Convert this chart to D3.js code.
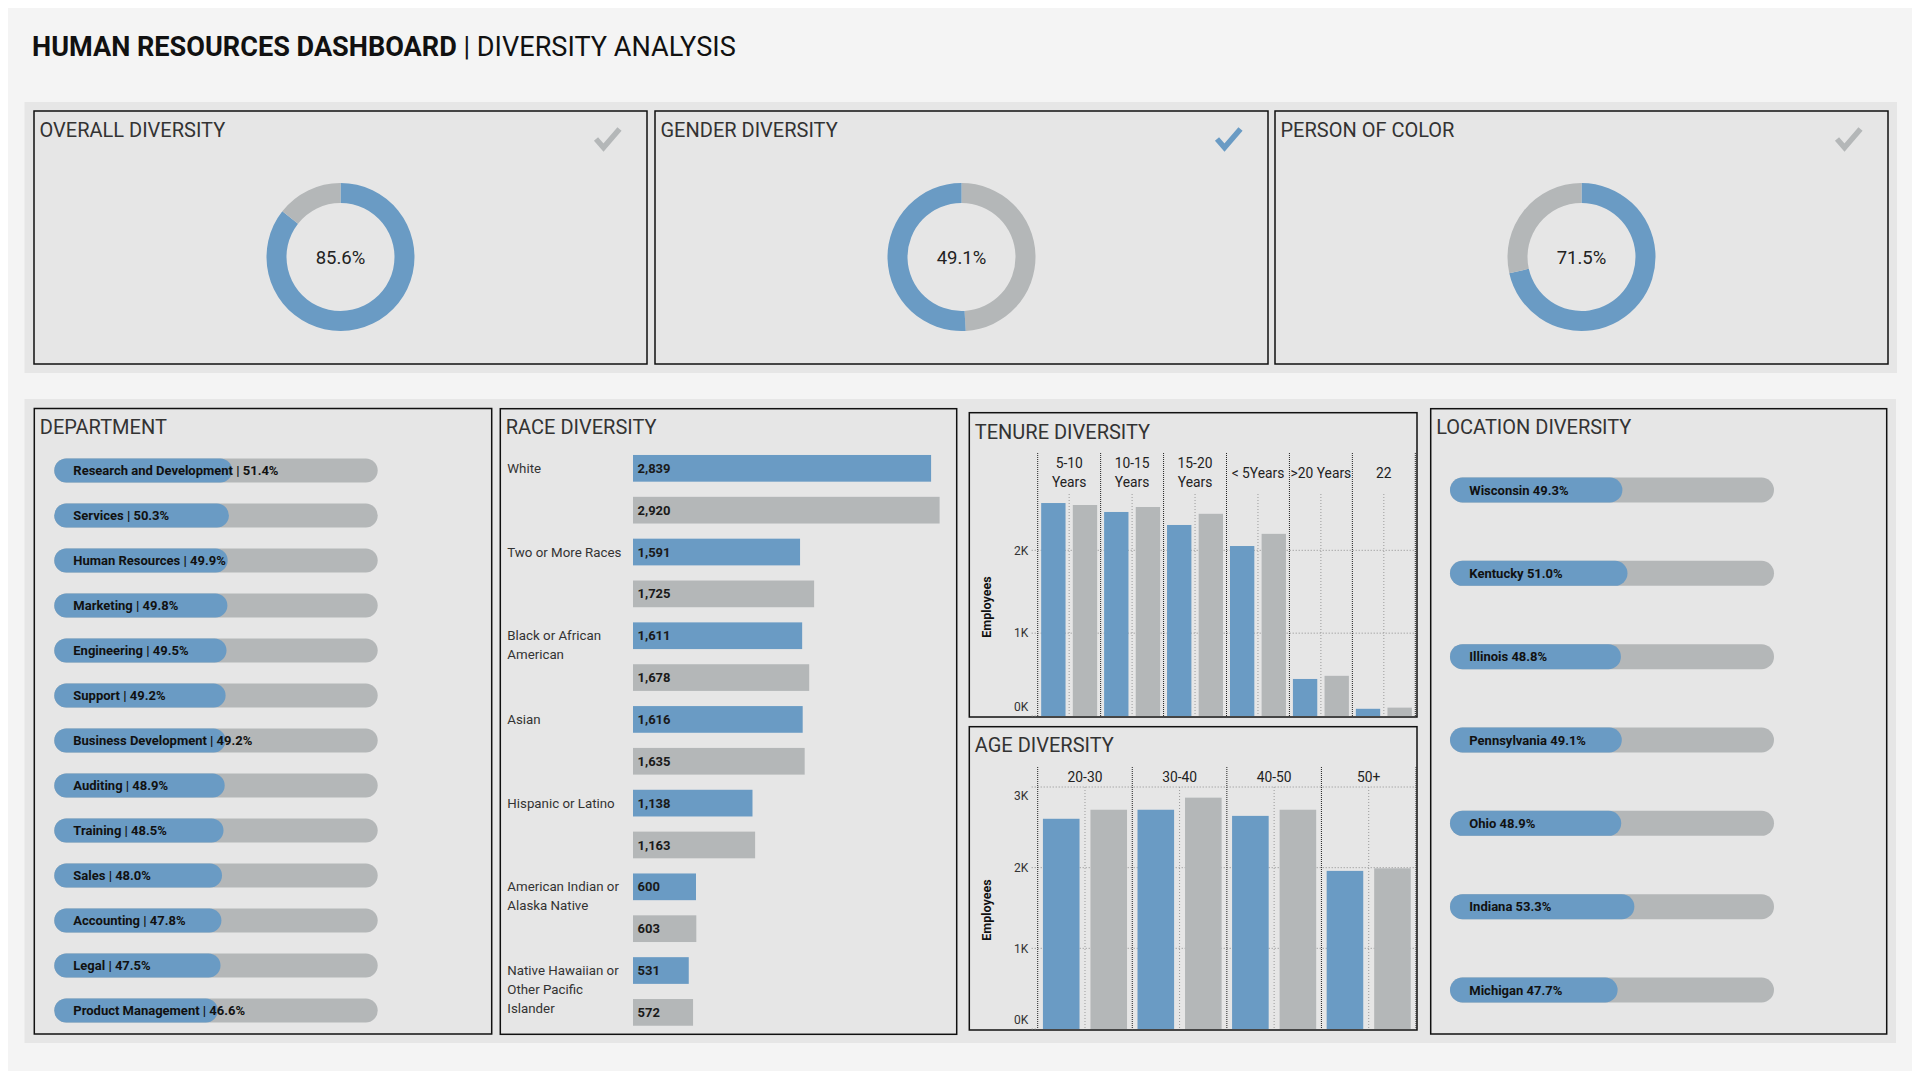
<!DOCTYPE html>
<html><head><meta charset="utf-8">
<script src="https://cdn.jsdelivr.net/npm/d3@7"></script>
<style>
body{margin:0;background:#fff;}
svg{display:block;font-family:Roboto,"Liberation Sans",sans-serif;}
</style></head><body>
<svg id="c" width="1919" height="1079"></svg>
<script>
// ---------- DATA ----------
const kpiTitles = ["OVERALL DIVERSITY", "GENDER DIVERSITY", "PERSON OF COLOR"];
const kpiValues = [85.6, 49.1, 71.5];           // labelled share (drawn first, from 12 o'clock)
const kpiValueIsBlue = [true, false, true];      // colour of labelled share
const kpiChecked = [false, true, false];

const departments = ["Research and Development","Services","Human Resources","Marketing","Engineering","Support","Business Development","Auditing","Training","Sales","Accounting","Legal","Product Management"];
const deptShare = [51.4, 50.3, 49.9, 49.8, 49.5, 49.2, 49.2, 48.9, 48.5, 48.0, 47.8, 47.5, 46.6];

const races = ["White","Two or More Races","Black or African American","Asian","Hispanic or Latino","American Indian or Alaska Native","Native Hawaiian or Other Pacific Islander"];
const raceBlue = [2839, 1591, 1611, 1616, 1138, 600, 531];
const raceGray = [2920, 1725, 1678, 1635, 1163, 603, 572];

const tenureBands = ["5-10 Years","10-15 Years","15-20 Years","< 5Years",">20 Years","22"];
const tenureBlue = [2571, 2463, 2306, 2052, 447, 87];
const tenureGray = [2547, 2523, 2441, 2199, 485, 101];
const tenureTicks = [0, 1000, 2000];

const ageBands = ["20-30","30-40","40-50","50+"];
const ageBlue = [2606, 2718, 2642, 1960];
const ageGray = [2718, 2868, 2718, 1992];
const ageTicks = [0, 1000, 2000, 3000];

const locations = ["Wisconsin","Kentucky","Illinois","Pennsylvania","Ohio","Indiana","Michigan"];
const locationShare = [49.3, 51.0, 48.8, 49.1, 48.9, 53.3, 47.7];

// ---------- STYLE ----------
const BLUE = "#6a9bc4", GRAY = "#b4b7b8", PANEL = "#e6e6e6", BORDER = "#111";
const svg = d3.select("#c");
const kFmt = d => (d / 1000) + "K";

svg.append("rect").attr("x", 8).attr("y", 8).attr("width", 1904).attr("height", 1063).attr("fill", "#f4f4f4");
svg.append("rect").attr("x", 24.5).attr("y", 102).attr("width", 1872.5).attr("height", 271).attr("fill", PANEL);
svg.append("rect").attr("x", 24.5).attr("y", 399).attr("width", 1871.5).attr("height", 644).attr("fill", PANEL);

const title = svg.append("text").attr("x", 32).attr("y", 56).attr("font-size", 27.1).attr("fill", "#111");
title.append("tspan").attr("font-weight", 700).text("HUMAN RESOURCES DASHBOARD");
title.append("tspan").text(" | DIVERSITY ANALYSIS");

function panel(x0, y0, x1, y1, t, base, fs) {
  svg.append("rect").attr("x", x0).attr("y", y0).attr("width", x1 - x0).attr("height", y1 - y0)
    .attr("fill", PANEL).attr("stroke", BORDER).attr("stroke-width", 1.5);
  svg.append("text").attr("x", x0 + 5.5).attr("y", base).attr("font-size", fs).attr("fill", "#333").text(t);
}

function wrapText(sel, str, maxW, x, lineH, center) {
  const words = str.split(" ");
  const probe = sel.append("tspan").attr("x", x);
  let line = [], lines = [];
  for (const w of words) {
    line.push(w);
    probe.text(line.join(" "));
    if (probe.node().getComputedTextLength() > maxW && line.length > 1) {
      line.pop(); lines.push(line.join(" ")); line = [w];
    }
  }
  lines.push(line.join(" "));
  probe.remove();
  const first = center ? -(lines.length - 1) / 2 * lineH : 0;
  lines.forEach((l, i) => sel.append("tspan").attr("x", x).attr("dy", i === 0 ? "0.35em" : lineH).text(l));
  sel.attr("transform", `translate(0,${first})`);
}

// ---------- KPI CARDS ----------
const cardX = [34, 655, 1275], cardW = 613;
const arc = d3.arc().innerRadius(54).outerRadius(74);
const pie = d3.pie().sort(null).value(d => d.v);
kpiTitles.forEach((t, i) => {
  const x0 = cardX[i];
  panel(x0, 111, x0 + cardW, 364, t, 137, 20);
  const cx = x0 + cardW / 2, cy = 257;
  const first = kpiValueIsBlue[i] ? BLUE : GRAY, second = kpiValueIsBlue[i] ? GRAY : BLUE;
  const segs = pie([{ v: kpiValues[i], c: first }, { v: 100 - kpiValues[i], c: second }]);
  svg.append("g").attr("transform", `translate(${cx},${cy})`).selectAll("path").data(segs).join("path")
    .attr("d", arc).attr("fill", d => d.data.c);
  svg.append("text").attr("x", cx).attr("y", cy + 1).attr("dy", "0.35em").attr("text-anchor", "middle")
    .attr("font-size", 18.5).attr("fill", "#222").text(kpiValues[i].toFixed(1) + "%");
  const R = x0 + cardW;
  svg.append("path").attr("d", `M${R - 51},${139} L${R - 43.5},${147.5} L${R - 27.5},${129}`)
    .attr("fill", "none").attr("stroke", kpiChecked[i] ? BLUE : GRAY).attr("stroke-width", 5.5)
    .attr("stroke-linejoin", "miter");
});

// ---------- PILL BARS (Department / Location) ----------
function pills(names, vals, yRange, xRange, thick, textX, fmt) {
  const y = d3.scaleBand().domain(names).range(yRange);
  const x = d3.scaleLinear().domain([0, 100]).range(xRange);
  const g = svg.append("g");
  names.forEach((n, i) => {
    const cy = y(n) + y.bandwidth() / 2;
    g.append("line").attr("x1", x(0)).attr("x2", x(100)).attr("y1", cy).attr("y2", cy)
      .attr("stroke", GRAY).attr("stroke-width", thick).attr("stroke-linecap", "round");
    g.append("line").attr("x1", x(0)).attr("x2", x(vals[i])).attr("y1", cy).attr("y2", cy)
      .attr("stroke", BLUE).attr("stroke-width", thick).attr("stroke-linecap", "round");
    g.append("text").attr("x", textX).attr("y", cy).attr("dy", "0.35em").attr("font-size", 13)
      .attr("font-weight", 700).attr("fill", "#111").text(fmt(n, vals[i]));
  });
}
panel(34.3, 408.5, 491.7, 1034, "DEPARTMENT", 434, 20);
pills(departments, deptShare, [448, 1033], [66.3, 365.7], 24, 73.3, (n, v) => `${n} | ${v.toFixed(1)}%`);

panel(1430.7, 408.7, 1886.7, 1034, "LOCATION DIVERSITY", 434, 20);
pills(locations, locationShare, [448.3, 1031.7], [1462.5, 1761.5], 25, 1469.3, (n, v) => `${n} ${v.toFixed(1)}%`);

// ---------- RACE ----------
panel(500.3, 408.7, 956.7, 1034.3, "RACE DIVERSITY", 434, 20);
{
  const yOuter = d3.scaleBand().domain(races).range([447.4, 1033.3]);
  const yInner = d3.scaleBand().domain(["b", "g"]).range([0, yOuter.bandwidth()]).paddingInner(0.362).paddingOuter(0.181);
  const x = d3.scaleLinear().domain([0, 3000]).range([633, 948]);
  const g = svg.append("g");
  races.forEach((r, i) => {
    [["b", raceBlue[i], BLUE], ["g", raceGray[i], GRAY]].forEach(([k, v, c]) => {
      const y0 = yOuter(r) + yInner(k);
      g.append("rect").attr("x", x(0)).attr("y", y0).attr("width", x(v) - x(0)).attr("height", yInner.bandwidth()).attr("fill", c);
      g.append("text").attr("x", x(0) + 4.5).attr("y", y0 + yInner.bandwidth() / 2).attr("dy", "0.35em")
        .attr("font-size", 13).attr("font-weight", 700).attr("fill", "#1a1a1a").text(d3.format(",")(v));
    });
    const ly = yOuter(r) + yInner("b") + yInner.bandwidth() / 2;
    const t = g.append("text").attr("y", ly).attr("font-size", 13.3).attr("fill", "#333");
    wrapText(t, r, 120, 507.3, 19, false);
  });
}

// ---------- COLUMN CHARTS (Tenure / Age) ----------
function columns(cfg) {
  const { bands, blue, gray, ticks, xRange, yDomainMax, y0, yTop, headTop, headY, lineH } = cfg;
  const x = d3.scaleBand().domain(bands).range(xRange);
  const xi = d3.scaleBand().domain(["b", "g"]).range([0, x.bandwidth()]).paddingInner(0.23).paddingOuter(0.11);
  const y = d3.scaleLinear().domain([0, yDomainMax]).range([y0, yTop]);
  const g = svg.append("g");
  ticks.forEach(t => {
    g.append("line").attr("x1", xRange[0] - 6).attr("x2", t === 0 ? xRange[0] : xRange[1])
      .attr("y1", y(t)).attr("y2", y(t)).attr("stroke", "#8f8f8f").attr("stroke-dasharray", "1,2");
    const ly = Math.max(yTop + 9, Math.min(y0 - 9, y(t)));
    g.append("text").attr("x", xRange[0] - 9.5).attr("y", ly).attr("dy", "0.35em").attr("text-anchor", "end")
      .attr("font-size", 12).attr("fill", "#333").text(kFmt(t));
  });
  bands.forEach(b => {
    const cx = x(b) + x.bandwidth() / 2;
    g.append("line").attr("x1", cx).attr("x2", cx).attr("y1", yTop).attr("y2", y0)
      .attr("stroke", "#9a9a9a").attr("stroke-dasharray", "1,2");
  });
  bands.forEach((b, i) => {
    [["b", blue[i], BLUE], ["g", gray[i], GRAY]].forEach(([k, v, c]) => {
      g.append("rect").attr("x", x(b) + xi(k)).attr("width", xi.bandwidth())
        .attr("y", y(v)).attr("height", y(0) - y(v)).attr("fill", c);
    });
    const t = g.append("text").attr("y", headY).attr("text-anchor", "middle").attr("font-size", 13.8).attr("fill", "#222");
    wrapText(t, b, x.bandwidth() - 0.5, x(b) + x.bandwidth() / 2, lineH, true);
  });
  const edges = bands.map(b => x(b)).concat([xRange[1]]);
  edges.forEach(ex => {
    g.append("line").attr("x1", ex).attr("x2", ex).attr("y1", headTop).attr("y2", y0)
      .attr("stroke", "#222").attr("stroke-dasharray", "1,1");
  });
  g.append("text").attr("transform", `translate(${986.7},${(yTop + y0) / 2 + 2}) rotate(-90)`)
    .attr("text-anchor", "middle").attr("dy", "0.35em").attr("font-size", 12.5).attr("font-weight", 700)
    .attr("fill", "#111").text("Employees");
}
panel(969.3, 412.7, 1417, 717, "TENURE DIVERSITY", 439, 20);
columns({ bands: tenureBands, blue: tenureBlue, gray: tenureGray, ticks: tenureTicks, xRange: [1037.7, 1415.3],
  yDomainMax: 2680, y0: 716, yTop: 494, headTop: 453, headY: 473, lineH: 19 });
panel(969.3, 726.7, 1417, 1030, "AGE DIVERSITY", 752, 20);
columns({ bands: ageBands, blue: ageBlue, gray: ageGray, ticks: ageTicks, xRange: [1037.7, 1416],
  yDomainMax: 3000, y0: 1029, yTop: 787, headTop: 767, headY: 777, lineH: 19 });
</script>
</body></html>
